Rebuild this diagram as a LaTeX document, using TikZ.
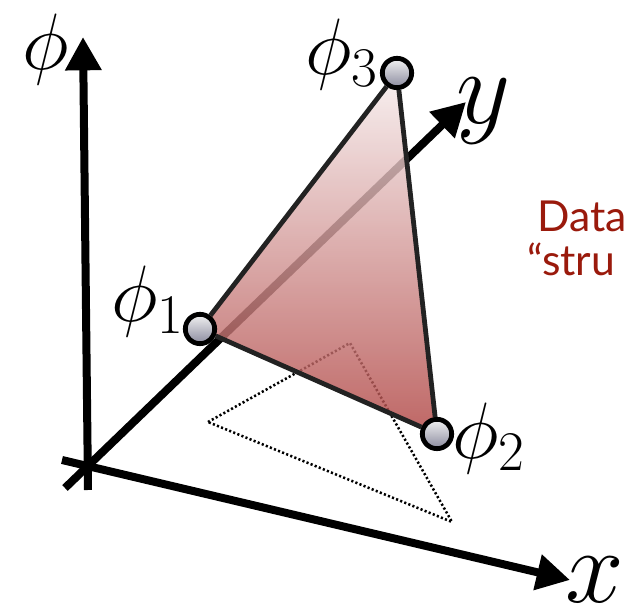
\RequirePackage{fix-cm}
\documentclass[tikz,border=0pt]{standalone}
\usepackage{fontspec}
\usetikzlibrary{arrows.meta}
\newfontfamily\notefont{Lato}
\definecolor{tritop}{HTML}{F6EDED}
\definecolor{tribot}{HTML}{B04543}
\definecolor{edgegray}{HTML}{222222}
\definecolor{notered}{HTML}{9A1A0C}
\definecolor{ballbot}{HTML}{8A8A9E}
\tikzset{axis/.style={line width=6pt, -{Triangle[length=25pt, width=26pt]}},
  vertex/.style={circle, draw=black, line width=3.6pt, minimum size=22pt,
    inner sep=0pt, top color=gray!10, bottom color=ballbot},
  philabel/.style={font=\fontsize{60}{60}\selectfont, inner sep=0pt},
  axlabel/.style={font=\fontsize{79}{79}\selectfont, inner sep=0pt},
  note/.style={font=\notefont\fontsize{32}{32}\selectfont, text=notered,
    inner sep=0pt}}

\begin{document}
\begin{tikzpicture}[x=0.75pt, y=-0.75pt]
\useasboundingbox (0,0) rectangle (637,616);
% axes
\coordinate (zb) at (88,490);
\coordinate (zt) at (83,37);
\coordinate (xs) at (62,460);
\coordinate (xt) at (570,580);
\coordinate (ys) at (65,488);
\coordinate (yt) at (466,102);
% projected triangle
\coordinate (d1) at (208,422);
\coordinate (d2) at (350,343);
\coordinate (d3) at (452,522);
\draw[line width=1.9pt, dash pattern=on 1.6pt off 1.7pt] (d1) -- (d2) -- (d3) -- cycle;
\draw[axis] (zb) -- (zt);
\draw[axis] (xs) -- (xt);
\draw[axis] (ys) -- (yt);
% lifted triangle
\coordinate (c1) at (200,329);
\coordinate (c2) at (437,434);
\coordinate (c3) at (397,73);
\shade[top color=tritop, bottom color=tribot, fill opacity=0.82]
  (c1) -- (c2) -- (c3) -- cycle;
\node[vertex] (p1) at (c1) {};
\node[vertex] (p2) at (c2) {};
\node[vertex] (p3) at (c3) {};
\draw[edgegray, line width=3.6pt] (p1) -- (p2) (p2) -- (p3) (p3) -- (p1);
% labels
\node[philabel, anchor=base east] (l1) at (184,322) {$\phi_1$};
\node[philabel, anchor=base west] (l2) at (452,459) {$\phi_2$};
\node[philabel, anchor=base east] (l3) at (378,75) {$\phi_3$};
\node[philabel] (lz) at (46,50) {$\phi$};
\node[axlabel, anchor=base] (lx) at (595,603) {$x$};
\node[axlabel, anchor=base] (ly) at (484,124) {$y$};
\node[note, anchor=base west] (n1) at (537,232) {Data};
\node[note, anchor=base west] (n2) at (527,276) {“stru};
\end{tikzpicture}
\end{document}
